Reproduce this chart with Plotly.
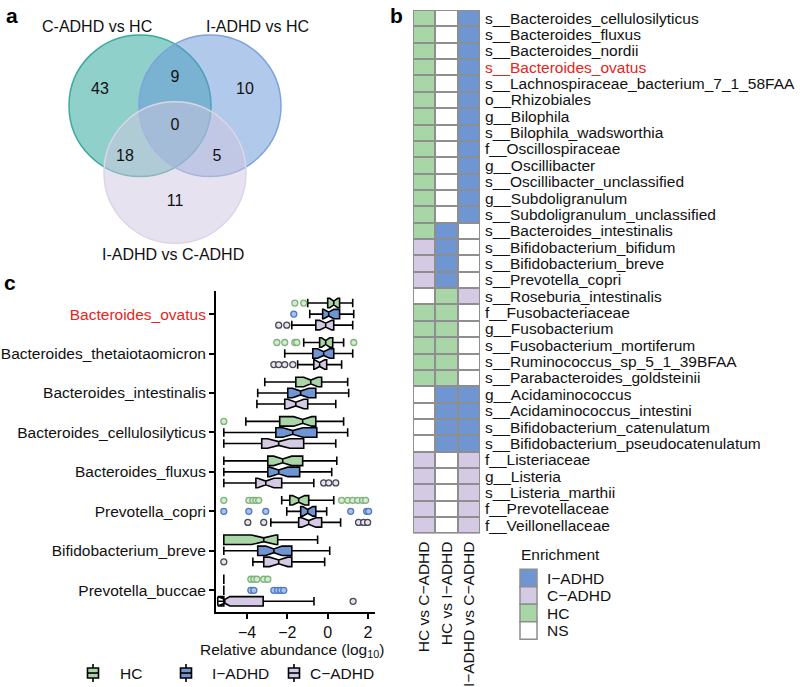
import plotly.graph_objects as go

W, H = 800, 687
FONT = "Arial, 'Liberation Sans', sans-serif"
MINUS = "\u2212"

# ---------------- Panel a: Venn data ----------------
venn_sets = ["C-ADHD vs HC", "I-ADHD vs HC", "I-ADHD vs C-ADHD"]
venn_regions = ["C_HC only", "C_HC & I_HC", "I_HC only", "all three", "C_HC & I_C", "I_HC & I_C", "I_C only"]
venn_counts = [43, 9, 10, 0, 18, 5, 11]

# ---------------- Panel b: enrichment heatmap data ----------------
taxa = [
    "s__Bacteroides_cellulosilyticus", "s__Bacteroides_fluxus", "s__Bacteroides_nordii",
    "s__Bacteroides_ovatus", "s__Lachnospiraceae_bacterium_7_1_58FAA", "o__Rhizobiales",
    "g__Bilophila", "s__Bilophila_wadsworthia", "f__Oscillospiraceae", "g__Oscillibacter",
    "s__Oscillibacter_unclassified", "g__Subdoligranulum", "s__Subdoligranulum_unclassified",
    "s__Bacteroides_intestinalis", "s__Bifidobacterium_bifidum", "s__Bifidobacterium_breve",
    "s__Prevotella_copri", "s__Roseburia_intestinalis", "f__Fusobacteriaceae", "g__Fusobacterium",
    "s__Fusobacterium_mortiferum", "s__Ruminococcus_sp_5_1_39BFAA", "s__Parabacteroides_goldsteinii",
    "g__Acidaminococcus", "s__Acidaminococcus_intestini", "s__Bifidobacterium_catenulatum",
    "s__Bifidobacterium_pseudocatenulatum", "f__Listeriaceae", "g__Listeria", "s__Listeria_marthii",
    "f__Prevotellaceae", "f__Veillonellaceae",
]
highlight_taxon = "s__Bacteroides_ovatus"
comparisons = ["HC vs C" + MINUS + "ADHD", "HC vs I" + MINUS + "ADHD", "I" + MINUS + "ADHD vs C" + MINUS + "ADHD"]
enrich_levels = ["I" + MINUS + "ADHD", "C" + MINUS + "ADHD", "HC", "NS"]

enrich_hc_vs_cadhd = (["HC"] * 14 + ["C-ADHD"] * 3 + ["NS"] + ["HC"] * 5 + ["NS"] * 4 + ["C-ADHD"] * 5)
enrich_hc_vs_iadhd = (["NS"] * 13 + ["I-ADHD"] * 4 + ["HC"] * 6 + ["I-ADHD"] * 4 + ["NS"] * 5)
enrich_iadhd_vs_cadhd = (["I-ADHD"] * 13 + ["NS"] * 4 + ["C-ADHD"] + ["NS"] * 5 + ["I-ADHD"] * 4 + ["C-ADHD"] * 5)

# ---------------- Panel c: box plot statistics (log10 relative abundance) ----------------
species = ["Bacteroides_ovatus", "Bacteroides_thetaiotaomicron", "Bacteroides_intestinalis",
           "Bacteroides_cellulosilyticus", "Bacteroides_fluxus", "Prevotella_copri",
           "Bifidobacterium_breve", "Prevotella_buccae"]
highlight_species = "Bacteroides_ovatus"
groups = ["HC", "I" + MINUS + "ADHD", "C" + MINUS + "ADHD"]

hc_low = [-0.99, -1.19, -3.12, -4.06, -5.15, -2.28, -5.15, -5.15]
hc_q1 = [0.00, -0.40, -1.58, -2.38, -2.97, -1.88, -5.15, -5.15]
hc_med = [0.30, -0.10, -0.84, -1.24, -2.23, -1.44, -3.17, -5.15]
hc_q3 = [0.59, 0.25, -0.30, -0.59, -1.24, -0.94, -2.48, -5.15]
hc_high = [1.24, 0.79, 0.99, 0.79, 0.45, 0.30, -0.50, -5.15]
hc_notch = [0.20, 0.20, 0.35, 0.45, 0.45, 0.30, 0.60, 0.0]
hc_out = [[-1.63, -1.19], [-2.52, -2.13, -1.63, -1.53, 1.29], [], [-5.15], [],
          [-5.15, -3.91, -3.71, -3.56, -3.42, 0.69, 0.99, 1.24, 1.49, 1.73, 1.88], [],
          [-3.81, -3.66, -3.51, -3.17, -2.97]]

ia_low = [-0.89, -2.13, -3.47, -5.15, -5.15, -2.03, -5.15, -5.15]
ia_q1 = [-0.25, -0.74, -1.98, -2.57, -2.97, -1.34, -3.47, -5.15]
ia_med = [0.05, -0.20, -1.34, -1.73, -2.43, -0.99, -2.67, -5.15]
ia_q3 = [0.59, 0.30, -0.59, -0.54, -1.39, -0.59, -1.78, -5.15]
ia_high = [1.29, 1.24, 1.04, 0.99, 0.20, -0.05, 0.10, -5.15]
ia_notch = [0.25, 0.30, 0.40, 0.50, 0.45, 0.25, 0.40, 0.0]
ia_out = [[-1.68], [], [], [], [], [-5.15, -3.91, -3.07, 1.14, 1.93, 2.03], [],
          [-3.81, -3.66, -2.67, -2.48, -2.33, -2.18]]

ca_low = [-1.78, -1.49, -3.51, -5.15, -5.15, -2.82, -3.71, -5.15]
ca_q1 = [-0.59, -0.69, -2.13, -3.27, -3.56, -1.44, -3.17, -5.15]
ca_med = [-0.10, -0.40, -1.58, -2.43, -3.07, -0.94, -2.43, -5.15]
ca_q3 = [0.30, -0.05, -0.99, -1.19, -2.28, -0.30, -1.78, -3.20]
ca_high = [1.24, 0.69, 0.40, 0.40, -0.69, 0.64, -0.15, -0.68]
ca_notch = [0.30, 0.25, 0.40, 0.55, 0.40, 0.35, 0.45, 0.30]
ca_out = [[-2.43, -2.03], [-2.67, -2.43, -2.13, -1.73], [], [], [-0.20, 0.05, 0.40],
          [-3.96, -3.17, 1.53, 1.78, 1.98], [-5.15], [1.26]]

x_ticks = [-4, -2, 0, 2]

# ---------------- styling ----------------
C_HC = "#a8d6a6"
C_IA = "#6f96d3"
C_CA = "#d4cae4"
C_NS = "#ffffff"
GRID_GREY = "#8e8e8e"


def pxx(x):
    return x / W


def pyy(y):
    return 1 - y / H


fig = go.Figure()

# ======== Panel a: Venn ========
venn_circles = [(140, 106, 71, "rgba(40,165,155,0.52)", "#3ba99d"),
                (210, 106, 71, "rgba(100,150,215,0.50)", "#7ea3dc"),
                (175, 173, 71, "rgba(208,198,224,0.50)", "#ddd5e7")]
venn_label_pos = [(100, 90), (175, 78), (245, 90), (175, 126), (125, 157), (217, 157), (175, 203)]
venn_title_pos = [(97, 27), (257, 27), (173, 255)]

for cx, cy, r, fill, line in venn_circles:
    fig.add_shape(type="circle", xref="x3", yref="y3", x0=cx - r, x1=cx + r, y0=cy - r, y1=cy + r,
                  fillcolor=fill, line=dict(color=line, width=1.5), layer="below")

fig.add_trace(go.Scatter(
    x=[p[0] for p in venn_label_pos], y=[p[1] for p in venn_label_pos],
    text=[str(v) for v in venn_counts], mode="text",
    textfont=dict(size=16, color="#111", family=FONT),
    xaxis="x3", yaxis="y3", showlegend=False, hoverinfo="skip"))

for (tx, ty), name in zip(venn_title_pos, venn_sets):
    fig.add_annotation(x=tx, y=ty, xref="x3", yref="y3", text=name, showarrow=False,
                       xanchor="center", yanchor="middle",
                       font=dict(size=16, color="#111", family=FONT))

# ======== Panel b: heatmap ========
code = {"NS": 0, "HC": 1, "C-ADHD": 2, "I-ADHD": 3}
cols = [enrich_hc_vs_cadhd, enrich_hc_vs_iadhd, enrich_iadhd_vs_cadhd]
z = [[code[cols[c][r]] for c in range(3)] for r in range(len(taxa))]
colorscale = [[0.0, C_NS], [0.25, C_NS], [0.25, C_HC], [0.5, C_HC],
              [0.5, C_CA], [0.75, C_CA], [0.75, C_IA], [1.0, C_IA]]
fig.add_shape(type="rect", xref="x2", yref="y2", x0=-0.5, x1=2.5, y0=-0.5, y1=len(taxa) - 0.5,
              fillcolor=GRID_GREY, line=dict(color=GRID_GREY, width=1.5), layer="below")
fig.add_trace(go.Heatmap(
    z=z, x=list(range(3)), y=list(range(len(taxa))), colorscale=colorscale, zmin=-0.5, zmax=3.5,
    xgap=2, ygap=2, showscale=False, xaxis="x2", yaxis="y2", hoverinfo="skip"))

taxa_text = [f"<span style='color:#e8241c'>{t}</span>" if t == highlight_taxon else t for t in taxa]

# Enrichment legend
fig.add_annotation(x=pxx(519), y=pyy(556), xref="paper", yref="paper", text="Enrichment",
                   showarrow=False, xanchor="left", yanchor="middle",
                   font=dict(size=15.5, color="#111", family=FONT))
leg_colors = [C_IA, C_CA, C_HC, C_NS]
for i, (lab, colr) in enumerate(zip(enrich_levels, leg_colors)):
    y0 = 571 + i * 17.5
    fig.add_shape(type="rect", xref="paper", yref="paper", x0=pxx(520), x1=pxx(537),
                  y0=pyy(y0), y1=pyy(y0 + 17.5), fillcolor=colr, line=dict(color=GRID_GREY, width=1.5))
    fig.add_annotation(x=pxx(545), y=pyy(y0 + 8.8), xref="paper", yref="paper", text=lab,
                       showarrow=False, xanchor="left", yanchor="middle",
                       font=dict(size=15.5, color="#111", family=FONT))

# ======== Panel c: box plots ========
GROUP_OFFSET = [-0.28, 0.0, 0.28]
BOX_W = 0.24
group_data = [
    (groups[0], C_HC, hc_low, hc_q1, hc_med, hc_q3, hc_high, hc_notch, hc_out, "#7fb27a", "#d3ebd1"),
    (groups[1], C_IA, ia_low, ia_q1, ia_med, ia_q3, ia_high, ia_notch, ia_out, "#4b79c2", "#a9c2ea"),
    (groups[2], C_CA, ca_low, ca_q1, ca_med, ca_q3, ca_high, ca_notch, ca_out, "#4a4a55", "#e8e1f0"),
]
for g, (name, colr, lo, q1, med, q3, hi, notch, outs, oline, ofill) in enumerate(group_data):
    pos = [i + GROUP_OFFSET[g] for i in range(len(species))]
    fig.add_trace(go.Box(
        orientation="h", y=pos, q1=q1, median=med, q3=q3, lowerfence=lo, upperfence=hi,
        notched=True, notchspan=notch, notchwidth=0.3, width=BOX_W, whiskerwidth=0.9,
        fillcolor=colr, line=dict(color="black", width=1.6), name=name,
        xaxis="x", yaxis="y", showlegend=False, hoverinfo="skip", boxpoints=False))
    ox, oy = [], []
    for i, vals in enumerate(outs):
        for v in vals:
            ox.append(v)
            oy.append(i + GROUP_OFFSET[g])
    fig.add_trace(go.Scatter(
        x=ox, y=oy, mode="markers",
        marker=dict(symbol="circle", size=6, color=ofill, line=dict(color=oline, width=1.3)),
        xaxis="x", yaxis="y", showlegend=False, hoverinfo="skip"))

species_text = [f"<span style='color:#e8241c'>{s}</span>" if s == highlight_species else s for s in species]

fig.add_annotation(x=pxx(292), y=pyy(652), xref="paper", yref="paper",
                   text="Relative abundance (log<sub>10</sub>)", showarrow=False,
                   xanchor="center", yanchor="middle",
                   font=dict(size=15.5, color="#111", family=FONT))

# box legend
legend_items = [(93, 118), (186, 210), (294, 308)]
for (ix, tx), name, colr in zip(legend_items, groups, [C_HC, C_IA, C_CA]):
    fig.add_shape(type="line", xref="paper", yref="paper", x0=pxx(ix), x1=pxx(ix),
                  y0=pyy(666), y1=pyy(684), line=dict(color="black", width=1.6))
    fig.add_shape(type="rect", xref="paper", yref="paper", x0=pxx(ix - 5.5), x1=pxx(ix + 5.5),
                  y0=pyy(670), y1=pyy(680), fillcolor=colr, line=dict(color="black", width=1.6))
    fig.add_shape(type="line", xref="paper", yref="paper", x0=pxx(ix - 5.5), x1=pxx(ix + 5.5),
                  y0=pyy(675), y1=pyy(675), line=dict(color="black", width=1.6))
    fig.add_annotation(x=pxx(tx), y=pyy(675), xref="paper", yref="paper", text=name,
                       showarrow=False, xanchor="left", yanchor="middle",
                       font=dict(size=15.5, color="#111", family=FONT))

# panel letters
for lab, lx, ly in [("a", 12, 16), ("b", 396, 16), ("c", 10, 283)]:
    fig.add_annotation(x=pxx(lx), y=pyy(ly), xref="paper", yref="paper", text=f"<b>{lab}</b>",
                       showarrow=False, xanchor="center", yanchor="middle",
                       font=dict(size=21, color="black", family=FONT))

# ======== axes ========
px_per_unit_y = (592 - 315) / 7
fig.update_layout(
    width=W, height=H, autosize=False,
    margin=dict(l=0, r=0, t=0, b=0),
    paper_bgcolor="white", plot_bgcolor="white",
    font=dict(family=FONT, color="#111"),
    boxmode="overlay",
    xaxis=dict(domain=[pxx(216), pxx(375)], anchor="y",
               range=[(216 - 327.7) / 20.17, (375 - 327.7) / 20.17],
               tickvals=x_ticks, ticktext=[f"{MINUS}{abs(t)}" if t < 0 else str(t) for t in x_ticks],
               ticks="outside", ticklen=5, tickwidth=2, tickcolor="black",
               showline=True, linewidth=2, linecolor="black", showgrid=False, zeroline=False,
               tickfont=dict(size=16, color="#111", family=FONT)),
    yaxis=dict(domain=[pyy(614), pyy(292)], anchor="x",
               range=[7 + 22 / px_per_unit_y, -23 / px_per_unit_y],
               tickvals=list(range(len(species))), ticktext=species_text,
               ticks="outside", ticklen=5, tickwidth=2, tickcolor="black",
               showline=True, linewidth=2, linecolor="black", showgrid=False, zeroline=False,
               tickfont=dict(size=15.5, color="#111", family=FONT)),
    xaxis2=dict(domain=[pxx(413), pxx(480)], anchor="y2", range=[-0.5, 2.5],
                tickvals=[0, 1, 2], ticktext=comparisons, tickangle=-90, ticks="",
                ticklabelstandoff=4,
                showgrid=False, zeroline=False, showline=False,
                tickfont=dict(size=15.5, color="#111", family=FONT)),
    yaxis2=dict(domain=[pyy(535), pyy(10)], anchor="x2", side="right",
                range=[len(taxa) - 0.5, -0.5],
                tickvals=list(range(len(taxa))), ticktext=taxa_text, ticks="",
                ticklabelstandoff=4,
                showgrid=False, zeroline=False, showline=False,
                tickfont=dict(size=15.5, color="#111", family=FONT)),
    xaxis3=dict(domain=[0, 0.5], anchor="y3", range=[0, 400], visible=False),
    yaxis3=dict(domain=[pyy(270), 1], anchor="x3", range=[270, 0], visible=False),
)

fig.write_html("out.html", config={"displayModeBar": False},
               post_script="document.body.style.margin='0';")
